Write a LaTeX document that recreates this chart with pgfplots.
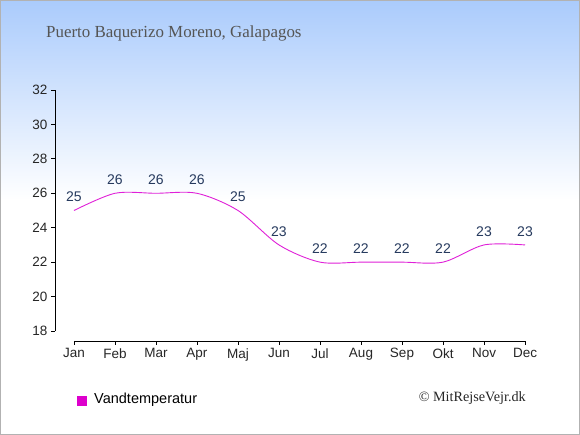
\documentclass[border=0pt]{standalone}
\usepackage{fontspec}
\setmainfont{Liberation Serif}
\setsansfont{Liberation Sans}
\usepackage{pgfplots}
\pgfplotsset{compat=1.18}
\definecolor{lineC}{HTML}{E020D8}
\definecolor{legC}{HTML}{DD00CC}
\definecolor{bgtop}{HTML}{AACBFC}
\definecolor{titleC}{HTML}{555555}
\definecolor{labelC}{HTML}{263A5E}
\begin{document}
\begin{tikzpicture}
\fill[white] (0pt,0pt) rectangle (580pt,435pt);
\shade[top color=bgtop, bottom color=white] (0pt,235pt) rectangle (580pt,435pt);
\draw[black!30] (0.5pt,0.5pt) rectangle (579.5pt,434.5pt);
\node[anchor=base west, font=\fontsize{16.9}{19}\selectfont, text=titleC, inner sep=0pt] at (46pt,397pt) {Puerto Baquerizo Moreno, Galapagos};
\begin{axis}[at={(55pt,94pt)}, anchor=south west, scale only axis,
  width=470pt, height=251pt,
  xmin=-0.463, xmax=11, ymin=17.42, ymax=32,
  axis lines=left, axis line style={draw=none},
  tick align=outside, major tick length=4pt,
  tick style={black, line width=0.8pt},
  xtick={0,...,11},
  xticklabels={Jan,Feb,Mar,Apr,Maj,Jun,Jul,Aug,Sep,Okt,Nov,Dec},
  ytick={18,20,...,32},
  /pgf/number format/assume math mode=true,
  ticklabel style={font=\sffamily\fontsize{13.5}{15}\selectfont, text=black!85},
  clip=false,
  nodes near coords,
  every node near coord/.append style={font=\sffamily\fontsize{14}{16}\selectfont, text=labelC, anchor=center, yshift=13.5pt},
]
\addplot[lineC, line width=0.9pt, smooth, tension=0.5, mark=none] coordinates {
(0,25) (1,26) (2,26) (3,26) (4,25) (5,23) (6,22) (7,22) (8,22) (9,22) (10,23) (11,23)};
\draw[black, line width=0.8pt] (axis cs:-0.463,18) -- (axis cs:-0.463,32);
\draw[black, line width=0.8pt] (axis cs:0,17.42) -- (axis cs:11,17.42);
\end{axis}
\fill[legC] (77pt,29pt) rectangle (87pt,39pt);
\node[anchor=west, font=\sffamily\fontsize{14.5}{16}\selectfont, inner sep=0pt] at (94pt,35pt) {Vandtemperatur};
\node[anchor=base east, font=\fontsize{14.2}{16}\selectfont, text=black!85, inner sep=0pt] at (526pt,33pt) {© MitRejseVejr.dk};
\end{tikzpicture}
\end{document}
